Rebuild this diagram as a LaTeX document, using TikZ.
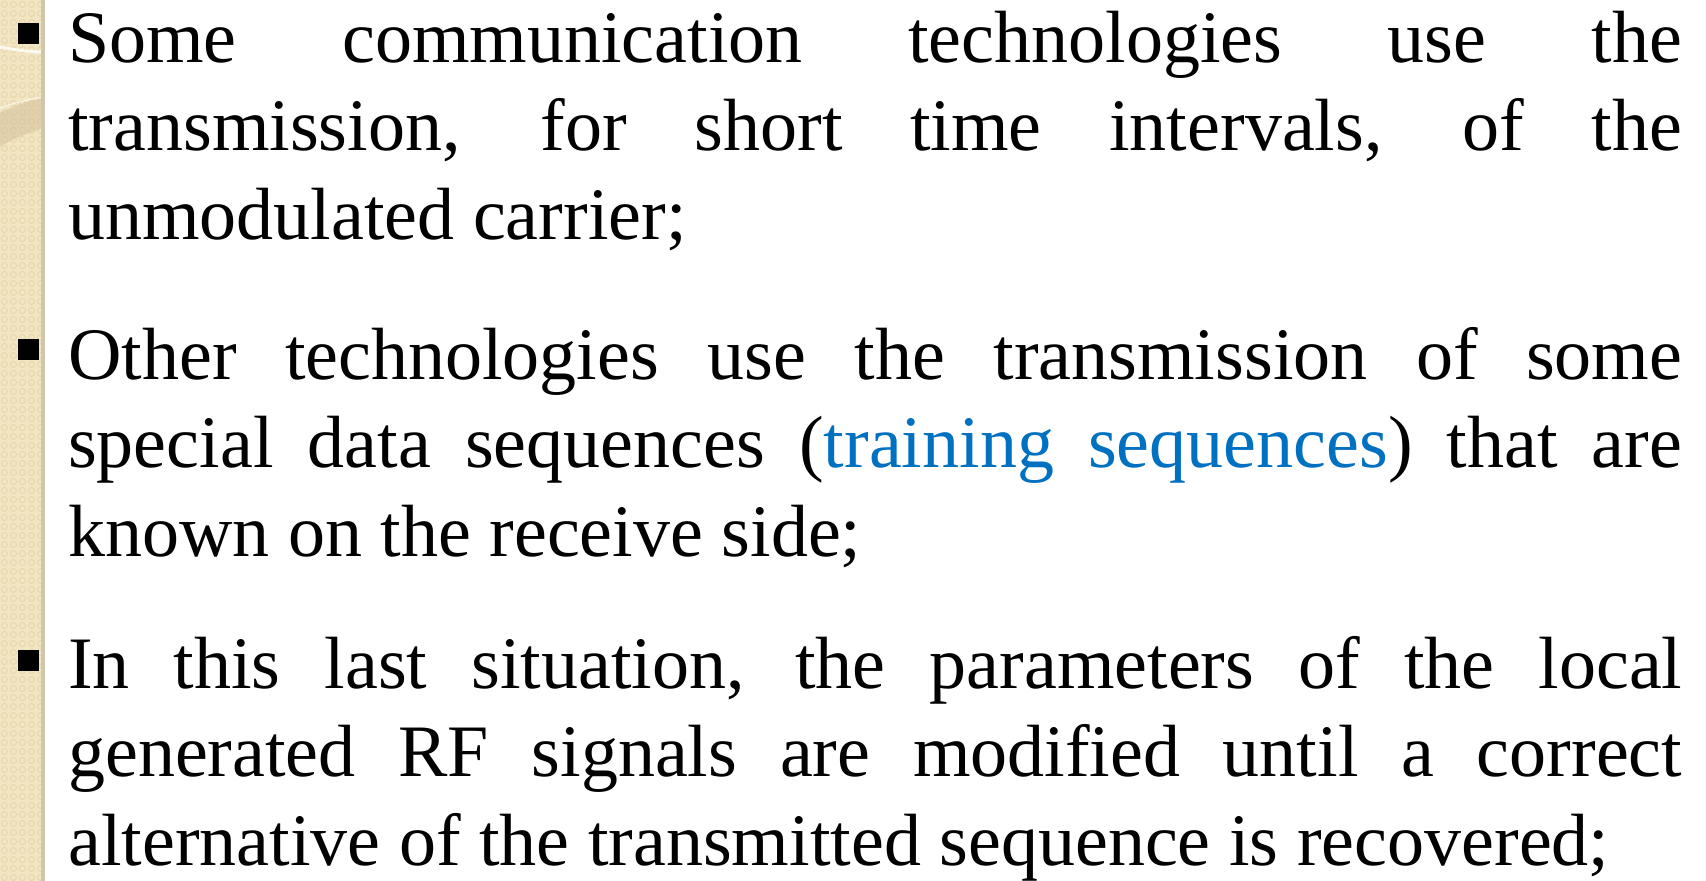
\documentclass[tikz,border=0pt]{standalone}
\usepackage{fontspec}
\setmainfont{Liberation Serif}
\definecolor{strip}{RGB}{242,229,193}
\definecolor{stripring}{RGB}{228,211,170}
\definecolor{stripedge}{RGB}{208,198,172}
\definecolor{ringtan}{RGB}{214,196,158}
\definecolor{linkblue}{RGB}{0,112,192}
\newcommand\parsetup{\tolerance=10000\hyphenpenalty=10000\relax}
\tikzset{
  para/.style={anchor=base west, inner sep=0pt, text width=1614pt,
    align=justify, font=\fontsize{74}{88.5}\selectfont},
  bulletsq/.style={fill=black, minimum size=21pt, inner sep=0pt}
}
\begin{document}
\begin{tikzpicture}[x=1pt,y=1pt]
  \useasboundingbox (0,0) rectangle (1706,-881);
  \fill[white] (0,0) rectangle (1706,-881);
  % decorative side strip
  \fill[strip] (0,0) rectangle (44,-881);
  \foreach \i in {0,...,4} {
    \foreach \j in {0,...,97} {
      \draw[stripring, line width=0.8pt] (4.5+9*\i,-4.5-9*\j) circle (3);
    }
  }
  % ring ornament near the top of the strip
  \begin{scope}
    \clip (0,0) rectangle (44,-881);
    \fill[ringtan, opacity=0.6] (-10,-118) .. controls (15,-105) and (30,-100) .. (44,-98)
      -- (44,-128) .. controls (30,-132) and (10,-140) .. (-10,-152) -- cycle;
    \draw[white, line width=3pt, opacity=0.8] (-5,-46) .. controls (15,-50) and (30,-52) .. (44,-52);
    \draw[white, line width=1pt, opacity=0.7] (-5,-110) .. controls (15,-102) and (30,-99) .. (44,-97);
  \end{scope}
  \fill[stripedge] (41,0) rectangle (44.5,-881);
  % bullets
  \node[bulletsq] (b1) at (28,-33.5) {};
  \node[bulletsq] (b2) at (28,-349) {};
  \node[bulletsq] (b3) at (28,-660) {};
  % paragraphs
  \node[para] (p1) at (68,-62) {\parsetup Some communication technologies use the\linebreak
    transmission, for short time intervals, of the\linebreak
    unmodulated carrier;};
  \node[para] (p2) at (68,-379) {\parsetup Other technologies use the transmission of some\linebreak
    special data sequences (\textcolor{linkblue}{training sequences}) that are\linebreak
    known on the receive side;};
  \node[para] (p3) at (68,-688) {\parsetup In this last situation, the parameters of the local\linebreak
    generated RF signals are modified until a correct\linebreak
    alternative of the transmitted sequence is recovered;};
\end{tikzpicture}
\end{document}
